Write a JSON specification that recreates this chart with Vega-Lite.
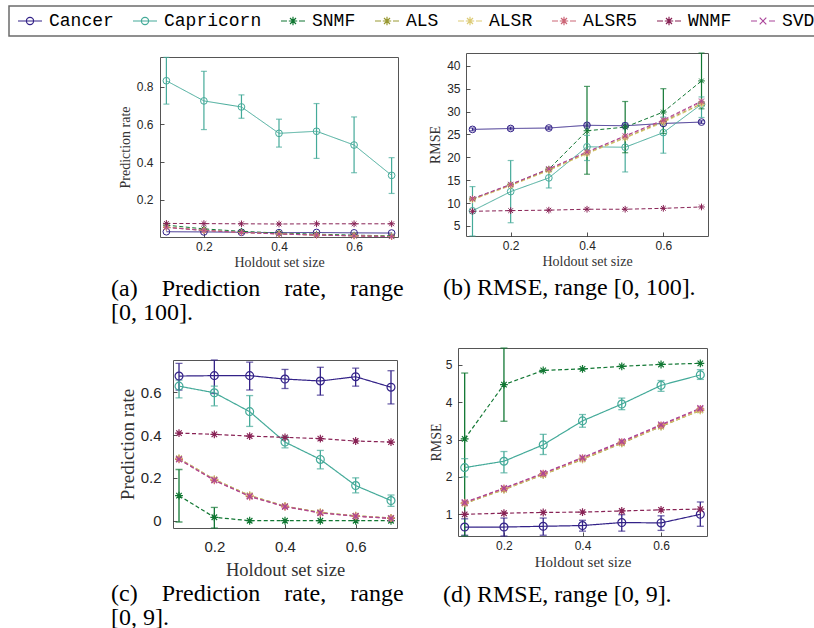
{
"$schema": "https://vega.github.io/schema/vega-lite/v6.json",
"padding": {"left": 8, "top": 5, "right": 2, "bottom": 2},
"background": "white",
"datasets": {"d": [
{"p":"a","s":"Cancer","x":0.1,"y":0.031},{"p":"a","s":"Cancer","x":0.2,"y":0.030},{"p":"a","s":"Cancer","x":0.3,"y":0.028},{"p":"a","s":"Cancer","x":0.4,"y":0.026},{"p":"a","s":"Cancer","x":0.5,"y":0.027},{"p":"a","s":"Cancer","x":0.6,"y":0.025},{"p":"a","s":"Cancer","x":0.7,"y":0.024},
{"p":"a","s":"Capricorn","x":0.1,"y":0.832,"lo":0.708,"hi":0.956},{"p":"a","s":"Capricorn","x":0.2,"y":0.725,"lo":0.573,"hi":0.882},{"p":"a","s":"Capricorn","x":0.3,"y":0.693,"lo":0.633,"hi":0.757},{"p":"a","s":"Capricorn","x":0.4,"y":0.553,"lo":0.48,"hi":0.628},{"p":"a","s":"Capricorn","x":0.5,"y":0.564,"lo":0.42,"hi":0.711},{"p":"a","s":"Capricorn","x":0.6,"y":0.491,"lo":0.344,"hi":0.64},{"p":"a","s":"Capricorn","x":0.7,"y":0.33,"lo":0.234,"hi":0.424},
{"p":"a","s":"SNMF","x":0.1,"y":0.066},{"p":"a","s":"SNMF","x":0.2,"y":0.046},{"p":"a","s":"SNMF","x":0.3,"y":0.033},{"p":"a","s":"SNMF","x":0.4,"y":0.024},{"p":"a","s":"SNMF","x":0.5,"y":0.018},{"p":"a","s":"SNMF","x":0.6,"y":0.013},{"p":"a","s":"SNMF","x":0.7,"y":0.009},
{"p":"a","s":"ALS","x":0.1,"y":0.056},{"p":"a","s":"ALS","x":0.2,"y":0.039},{"p":"a","s":"ALS","x":0.3,"y":0.028},{"p":"a","s":"ALS","x":0.4,"y":0.02},{"p":"a","s":"ALS","x":0.5,"y":0.014},{"p":"a","s":"ALS","x":0.6,"y":0.01},{"p":"a","s":"ALS","x":0.7,"y":0.006},
{"p":"a","s":"ALSR","x":0.1,"y":0.055},{"p":"a","s":"ALSR","x":0.2,"y":0.038},{"p":"a","s":"ALSR","x":0.3,"y":0.027},{"p":"a","s":"ALSR","x":0.4,"y":0.019},{"p":"a","s":"ALSR","x":0.5,"y":0.013},{"p":"a","s":"ALSR","x":0.6,"y":0.009},{"p":"a","s":"ALSR","x":0.7,"y":0.006},
{"p":"a","s":"ALSR5","x":0.1,"y":0.054},{"p":"a","s":"ALSR5","x":0.2,"y":0.037},{"p":"a","s":"ALSR5","x":0.3,"y":0.027},{"p":"a","s":"ALSR5","x":0.4,"y":0.019},{"p":"a","s":"ALSR5","x":0.5,"y":0.013},{"p":"a","s":"ALSR5","x":0.6,"y":0.009},{"p":"a","s":"ALSR5","x":0.7,"y":0.005},
{"p":"a","s":"WNMF","x":0.1,"y":0.075},{"p":"a","s":"WNMF","x":0.2,"y":0.074},{"p":"a","s":"WNMF","x":0.3,"y":0.073},{"p":"a","s":"WNMF","x":0.4,"y":0.072},{"p":"a","s":"WNMF","x":0.5,"y":0.073},{"p":"a","s":"WNMF","x":0.6,"y":0.073},{"p":"a","s":"WNMF","x":0.7,"y":0.073},
{"p":"a","s":"SVD","x":0.1,"y":0.054},{"p":"a","s":"SVD","x":0.2,"y":0.038},{"p":"a","s":"SVD","x":0.3,"y":0.027},{"p":"a","s":"SVD","x":0.4,"y":0.019},{"p":"a","s":"SVD","x":0.5,"y":0.013},{"p":"a","s":"SVD","x":0.6,"y":0.009},{"p":"a","s":"SVD","x":0.7,"y":0.005},

{"p":"b","s":"Cancer","x":0.1,"y":26.1,"lo":25.8,"hi":26.4},{"p":"b","s":"Cancer","x":0.2,"y":26.3,"lo":26.0,"hi":26.6},{"p":"b","s":"Cancer","x":0.3,"y":26.4,"lo":26.1,"hi":26.7},{"p":"b","s":"Cancer","x":0.4,"y":27.0,"lo":26.7,"hi":27.3},{"p":"b","s":"Cancer","x":0.5,"y":26.9,"lo":26.6,"hi":27.2},{"p":"b","s":"Cancer","x":0.6,"y":27.4,"lo":27.1,"hi":27.7},{"p":"b","s":"Cancer","x":0.7,"y":27.7,"lo":27.4,"hi":28.0},
{"p":"b","s":"Capricorn","x":0.1,"y":8.3,"lo":2.0,"hi":13.6},{"p":"b","s":"Capricorn","x":0.2,"y":12.5,"lo":5.7,"hi":19.3},{"p":"b","s":"Capricorn","x":0.3,"y":15.5,"lo":13.3,"hi":17.6},{"p":"b","s":"Capricorn","x":0.4,"y":22.3,"lo":19.3,"hi":24.8},{"p":"b","s":"Capricorn","x":0.5,"y":22.2,"lo":16.8,"hi":27.5},{"p":"b","s":"Capricorn","x":0.6,"y":25.4,"lo":20.9,"hi":28.8},{"p":"b","s":"Capricorn","x":0.7,"y":31.6,"lo":28.7,"hi":33.2},
{"p":"b","s":"SNMF","x":0.1,"y":10.9,"lo":10.6,"hi":11.2},{"p":"b","s":"SNMF","x":0.2,"y":14.0,"lo":13.7,"hi":14.3},{"p":"b","s":"SNMF","x":0.3,"y":17.4,"lo":17.1,"hi":17.7},{"p":"b","s":"SNMF","x":0.4,"y":25.8,"lo":16.3,"hi":35.5},{"p":"b","s":"SNMF","x":0.5,"y":26.6,"lo":21.0,"hi":32.2},{"p":"b","s":"SNMF","x":0.6,"y":29.9,"lo":25.2,"hi":35.0},{"p":"b","s":"SNMF","x":0.7,"y":36.7,"lo":30.6,"hi":44.0},
{"p":"b","s":"ALS","x":0.1,"y":10.8},{"p":"b","s":"ALS","x":0.2,"y":13.9},{"p":"b","s":"ALS","x":0.3,"y":17.2},{"p":"b","s":"ALS","x":0.4,"y":20.9},{"p":"b","s":"ALS","x":0.5,"y":24.3},{"p":"b","s":"ALS","x":0.6,"y":27.8},{"p":"b","s":"ALS","x":0.7,"y":31.7},
{"p":"b","s":"ALSR","x":0.1,"y":10.7},{"p":"b","s":"ALSR","x":0.2,"y":13.8},{"p":"b","s":"ALSR","x":0.3,"y":17.1},{"p":"b","s":"ALSR","x":0.4,"y":20.8},{"p":"b","s":"ALSR","x":0.5,"y":24.2},{"p":"b","s":"ALSR","x":0.6,"y":27.6},{"p":"b","s":"ALSR","x":0.7,"y":31.6},
{"p":"b","s":"ALSR5","x":0.1,"y":10.9},{"p":"b","s":"ALSR5","x":0.2,"y":14.0},{"p":"b","s":"ALSR5","x":0.3,"y":17.4},{"p":"b","s":"ALSR5","x":0.4,"y":21.1},{"p":"b","s":"ALSR5","x":0.5,"y":24.6},{"p":"b","s":"ALSR5","x":0.6,"y":28.0},{"p":"b","s":"ALSR5","x":0.7,"y":32.1},
{"p":"b","s":"WNMF","x":0.1,"y":8.2},{"p":"b","s":"WNMF","x":0.2,"y":8.35},{"p":"b","s":"WNMF","x":0.3,"y":8.45},{"p":"b","s":"WNMF","x":0.4,"y":8.65},{"p":"b","s":"WNMF","x":0.5,"y":8.65},{"p":"b","s":"WNMF","x":0.6,"y":8.85},{"p":"b","s":"WNMF","x":0.7,"y":9.15},
{"p":"b","s":"SVD","x":0.1,"y":11.0},{"p":"b","s":"SVD","x":0.2,"y":14.1},{"p":"b","s":"SVD","x":0.3,"y":17.5},{"p":"b","s":"SVD","x":0.4,"y":21.2},{"p":"b","s":"SVD","x":0.5,"y":24.7},{"p":"b","s":"SVD","x":0.6,"y":28.2},{"p":"b","s":"SVD","x":0.7,"y":32.3},

{"p":"c","s":"Cancer","x":0.1,"y":0.675,"lo":0.61,"hi":0.734},{"p":"c","s":"Cancer","x":0.2,"y":0.677,"lo":0.594,"hi":0.76},{"p":"c","s":"Cancer","x":0.3,"y":0.677,"lo":0.61,"hi":0.74},{"p":"c","s":"Cancer","x":0.4,"y":0.661,"lo":0.617,"hi":0.706},{"p":"c","s":"Cancer","x":0.5,"y":0.652,"lo":0.586,"hi":0.716},{"p":"c","s":"Cancer","x":0.6,"y":0.672,"lo":0.628,"hi":0.712},{"p":"c","s":"Cancer","x":0.7,"y":0.623,"lo":0.545,"hi":0.70},
{"p":"c","s":"Capricorn","x":0.1,"y":0.628,"lo":0.573,"hi":0.656},{"p":"c","s":"Capricorn","x":0.2,"y":0.597,"lo":0.536,"hi":0.628},{"p":"c","s":"Capricorn","x":0.3,"y":0.509,"lo":0.44,"hi":0.584},{"p":"c","s":"Capricorn","x":0.4,"y":0.367,"lo":0.34,"hi":0.394},{"p":"c","s":"Capricorn","x":0.5,"y":0.286,"lo":0.242,"hi":0.328},{"p":"c","s":"Capricorn","x":0.6,"y":0.164,"lo":0.13,"hi":0.2},{"p":"c","s":"Capricorn","x":0.7,"y":0.094,"lo":0.067,"hi":0.12},
{"p":"c","s":"SNMF","x":0.1,"y":0.117,"lo":-0.006,"hi":0.239},{"p":"c","s":"SNMF","x":0.2,"y":0.016,"lo":-0.04,"hi":0.062},{"p":"c","s":"SNMF","x":0.3,"y":0.0},{"p":"c","s":"SNMF","x":0.4,"y":0.0},{"p":"c","s":"SNMF","x":0.5,"y":0.0},{"p":"c","s":"SNMF","x":0.6,"y":0.0},{"p":"c","s":"SNMF","x":0.7,"y":0.0},
{"p":"c","s":"ALS","x":0.1,"y":0.291},{"p":"c","s":"ALS","x":0.2,"y":0.193},{"p":"c","s":"ALS","x":0.3,"y":0.118},{"p":"c","s":"ALS","x":0.4,"y":0.068},{"p":"c","s":"ALS","x":0.5,"y":0.039},{"p":"c","s":"ALS","x":0.6,"y":0.023},{"p":"c","s":"ALS","x":0.7,"y":0.013},
{"p":"c","s":"ALSR","x":0.1,"y":0.29},{"p":"c","s":"ALSR","x":0.2,"y":0.192},{"p":"c","s":"ALSR","x":0.3,"y":0.117},{"p":"c","s":"ALSR","x":0.4,"y":0.067},{"p":"c","s":"ALSR","x":0.5,"y":0.038},{"p":"c","s":"ALSR","x":0.6,"y":0.022},{"p":"c","s":"ALSR","x":0.7,"y":0.012},
{"p":"c","s":"ALSR5","x":0.1,"y":0.286},{"p":"c","s":"ALSR5","x":0.2,"y":0.188},{"p":"c","s":"ALSR5","x":0.3,"y":0.113},{"p":"c","s":"ALSR5","x":0.4,"y":0.065},{"p":"c","s":"ALSR5","x":0.5,"y":0.036},{"p":"c","s":"ALSR5","x":0.6,"y":0.021},{"p":"c","s":"ALSR5","x":0.7,"y":0.011},
{"p":"c","s":"WNMF","x":0.1,"y":0.409},{"p":"c","s":"WNMF","x":0.2,"y":0.403},{"p":"c","s":"WNMF","x":0.3,"y":0.395},{"p":"c","s":"WNMF","x":0.4,"y":0.389},{"p":"c","s":"WNMF","x":0.5,"y":0.383},{"p":"c","s":"WNMF","x":0.6,"y":0.372},{"p":"c","s":"WNMF","x":0.7,"y":0.367},
{"p":"c","s":"SVD","x":0.1,"y":0.287},{"p":"c","s":"SVD","x":0.2,"y":0.189},{"p":"c","s":"SVD","x":0.3,"y":0.114},{"p":"c","s":"SVD","x":0.4,"y":0.066},{"p":"c","s":"SVD","x":0.5,"y":0.037},{"p":"c","s":"SVD","x":0.6,"y":0.021},{"p":"c","s":"SVD","x":0.7,"y":0.011},

{"p":"d","s":"Cancer","x":0.1,"y":0.66,"lo":0.44,"hi":0.88},{"p":"d","s":"Cancer","x":0.2,"y":0.66,"lo":0.42,"hi":0.9},{"p":"d","s":"Cancer","x":0.3,"y":0.68,"lo":0.44,"hi":0.9},{"p":"d","s":"Cancer","x":0.4,"y":0.7,"lo":0.55,"hi":0.84},{"p":"d","s":"Cancer","x":0.5,"y":0.78,"lo":0.55,"hi":0.99},{"p":"d","s":"Cancer","x":0.6,"y":0.77,"lo":0.57,"hi":0.96},{"p":"d","s":"Cancer","x":0.7,"y":1.0,"lo":0.68,"hi":1.33},
{"p":"d","s":"Capricorn","x":0.1,"y":2.25,"lo":2.0,"hi":2.49},{"p":"d","s":"Capricorn","x":0.2,"y":2.42,"lo":2.11,"hi":2.68},{"p":"d","s":"Capricorn","x":0.3,"y":2.86,"lo":2.6,"hi":3.14},{"p":"d","s":"Capricorn","x":0.4,"y":3.5,"lo":3.33,"hi":3.67},{"p":"d","s":"Capricorn","x":0.5,"y":3.95,"lo":3.8,"hi":4.11},{"p":"d","s":"Capricorn","x":0.6,"y":4.45,"lo":4.29,"hi":4.58},{"p":"d","s":"Capricorn","x":0.7,"y":4.73,"lo":4.61,"hi":4.87},
{"p":"d","s":"SNMF","x":0.1,"y":3.02,"lo":0.3,"hi":4.78},{"p":"d","s":"SNMF","x":0.2,"y":4.47,"lo":3.49,"hi":5.6},{"p":"d","s":"SNMF","x":0.3,"y":4.85},{"p":"d","s":"SNMF","x":0.4,"y":4.89},{"p":"d","s":"SNMF","x":0.5,"y":4.96},{"p":"d","s":"SNMF","x":0.6,"y":5.01},{"p":"d","s":"SNMF","x":0.7,"y":5.04},
{"p":"d","s":"ALS","x":0.1,"y":1.29},{"p":"d","s":"ALS","x":0.2,"y":1.66},{"p":"d","s":"ALS","x":0.3,"y":2.06},{"p":"d","s":"ALS","x":0.4,"y":2.47},{"p":"d","s":"ALS","x":0.5,"y":2.9},{"p":"d","s":"ALS","x":0.6,"y":3.35},{"p":"d","s":"ALS","x":0.7,"y":3.78},
{"p":"d","s":"ALSR","x":0.1,"y":1.3},{"p":"d","s":"ALSR","x":0.2,"y":1.67},{"p":"d","s":"ALSR","x":0.3,"y":2.07},{"p":"d","s":"ALSR","x":0.4,"y":2.48},{"p":"d","s":"ALSR","x":0.5,"y":2.91},{"p":"d","s":"ALSR","x":0.6,"y":3.36},{"p":"d","s":"ALSR","x":0.7,"y":3.79},
{"p":"d","s":"ALSR5","x":0.1,"y":1.31},{"p":"d","s":"ALSR5","x":0.2,"y":1.69},{"p":"d","s":"ALSR5","x":0.3,"y":2.09},{"p":"d","s":"ALSR5","x":0.4,"y":2.5},{"p":"d","s":"ALSR5","x":0.5,"y":2.93},{"p":"d","s":"ALSR5","x":0.6,"y":3.38},{"p":"d","s":"ALSR5","x":0.7,"y":3.82},
{"p":"d","s":"WNMF","x":0.1,"y":1.0},{"p":"d","s":"WNMF","x":0.2,"y":1.03},{"p":"d","s":"WNMF","x":0.3,"y":1.05},{"p":"d","s":"WNMF","x":0.4,"y":1.06},{"p":"d","s":"WNMF","x":0.5,"y":1.09},{"p":"d","s":"WNMF","x":0.6,"y":1.12},{"p":"d","s":"WNMF","x":0.7,"y":1.14},
{"p":"d","s":"SVD","x":0.1,"y":1.32},{"p":"d","s":"SVD","x":0.2,"y":1.7},{"p":"d","s":"SVD","x":0.3,"y":2.1},{"p":"d","s":"SVD","x":0.4,"y":2.52},{"p":"d","s":"SVD","x":0.5,"y":2.95},{"p":"d","s":"SVD","x":0.6,"y":3.4},{"p":"d","s":"SVD","x":0.7,"y":3.84}
]},
"spacing": 14,
"vconcat": [
{
 "width": 1, "height": 1,
 "view": {"stroke": null},
 "data": {"values": []},
 "mark": {"type": "point", "filled": false, "opacity": 1},
 "encoding": {
  "color": {"field": "s", "type": "nominal",
   "scale": {"domain": ["Cancer","Capricorn","SNMF","ALS","ALSR","ALSR5","WNMF","SVD"], "range": ["#332288","#44AA99","#117733","#999933","#DDCC77","#CC6677","#882255","#AA4499"]},
   "legend": {"orient": "top", "direction": "horizontal", "title": null, "offset": 0, "padding": 6, "strokeColor": "#6b6b6b", "labelFont": "Liberation Mono", "labelFontSize": 18, "labelColor": "#000000", "labelOffset": 16, "columnPadding": 16, "symbolSize": 144, "symbolStrokeWidth": 1.2, "labelLimit": 0, "symbolLimit": 0}},
  "shape": {"field": "s", "type": "nominal",
   "scale": {"domain": ["Cancer","Capricorn","SNMF","ALS","ALSR","ALSR5","WNMF","SVD"], "range": [
    "M-1,0L3,0M1.6,0A0.6,0.6 0 1 1 0.4,0A0.6,0.6 0 1 1 1.6,0",
    "M-1,0L3,0M1.6,0A0.6,0.6 0 1 1 0.4,0A0.6,0.6 0 1 1 1.6,0",
    "M-1,0L0,0M2,0L3,0M0.3,0L1.7,0M1,-0.7L1,0.7M0.5,-0.5L1.5,0.5M0.5,0.5L1.5,-0.5",
    "M-1,0L0,0M2,0L3,0M0.3,0L1.7,0M1,-0.7L1,0.7M0.5,-0.5L1.5,0.5M0.5,0.5L1.5,-0.5",
    "M-1,0L0,0M2,0L3,0M0.3,0L1.7,0M1,-0.7L1,0.7M0.5,-0.5L1.5,0.5M0.5,0.5L1.5,-0.5",
    "M-1,0L0,0M2,0L3,0M0.3,0L1.7,0M1,-0.7L1,0.7M0.5,-0.5L1.5,0.5M0.5,0.5L1.5,-0.5",
    "M-1,0L0,0M2,0L3,0M0.3,0L1.7,0M1,-0.7L1,0.7M0.5,-0.5L1.5,0.5M0.5,0.5L1.5,-0.5",
    "M-1,0L0,0M2,0L3,0M0.45,-0.55L1.55,0.55M0.45,0.55L1.55,-0.55"]},
   "legend": {"orient": "top", "direction": "horizontal", "title": null, "offset": 0, "padding": 6, "strokeColor": "#6b6b6b", "labelFont": "Liberation Mono", "labelFontSize": 18, "labelColor": "#000000", "labelOffset": 16, "columnPadding": 16, "symbolSize": 144, "symbolStrokeWidth": 1.2, "labelLimit": 0, "symbolLimit": 0}}
 }
},
{
 "spacing": 23,
 "hconcat": [
  {"width": 78, "height": 1, "view": {"stroke": null}, "data": {"values": []}, "mark": "point"},
  {"spacing": 2, "vconcat": [
   {"width": 1, "height": 1, "view": {"stroke": null}, "data": {"values": []}, "mark": "point"},
   {
    "width": 238, "height": 180,
    "data": {"name": "d"},
    "transform": [{"filter": "datum.p == 'a'"}],
    "title": {"text": ["(a)\u00a0\u00a0\u00a0\u00a0Prediction\u00a0\u00a0\u00a0\u00a0rate,\u00a0\u00a0\u00a0\u00a0range", "[0, 100]."], "orient": "bottom", "anchor": "start", "frame": "group", "dx": -49, "offset": 8, "font": "Liberation Serif", "fontSize": 24, "fontWeight": "normal", "color": "#000000", "lineHeight": 24},
    "encoding": {
     "x": {"field": "x", "type": "quantitative", "title": "Holdout set size", "scale": {"domain": [0.083, 0.717], "nice": false, "zero": false}, "axis": {"values": [0.2, 0.4, 0.6], "format": ".1f", "labelFontSize": 12, "titleFontSize": 14, "tickSize": -4, "labelPadding": 8, "titlePadding": 3}},
     "y": {"field": "y", "type": "quantitative", "title": "Prediction rate", "scale": {"domain": [0.003, 0.958], "nice": false, "zero": false, "clamp": true}, "axis": {"values": [0.2, 0.4, 0.6, 0.8], "format": ".1f", "labelFontSize": 12, "titleFontSize": 14, "tickSize": -4, "labelPadding": 11, "titlePadding": 4}},
     "color": {"field": "s", "type": "nominal", "scale": {"domain": ["Cancer","Capricorn","SNMF","ALS","ALSR","ALSR5","WNMF","SVD"], "range": ["#332288","#44AA99","#117733","#999933","#DDCC77","#CC6677","#882255","#AA4499"]}, "legend": null}
    },
    "layer": [
     {"mark": {"type": "rule", "strokeWidth": 1.2}, "encoding": {"y": {"field": "lo", "type": "quantitative", "title": "Prediction rate"}, "y2": {"field": "hi"}}},
     {"mark": {"type": "tick", "orient": "horizontal", "size": 6, "thickness": 1.2}, "encoding": {"y": {"field": "lo", "type": "quantitative", "title": "Prediction rate"}}},
     {"mark": {"type": "tick", "orient": "horizontal", "size": 6, "thickness": 1.2}, "encoding": {"y": {"field": "hi", "type": "quantitative", "title": "Prediction rate"}}},
     {"mark": {"type": "line", "strokeWidth": 1}, "encoding": {"strokeDash": {"field": "s", "type": "nominal", "scale": {"domain": ["Cancer","Capricorn","SNMF","ALS","ALSR","ALSR5","WNMF","SVD"], "range": [[1,0],[1,0],[4,2.5],[4,2.5],[4,2.5],[4,2.5],[4,2.5],[4,2.5]]}, "legend": null}}},
     {"mark": {"type": "point", "filled": false, "size": 45, "strokeWidth": 1, "opacity": 1}, "encoding": {"shape": {"field": "s", "type": "nominal", "scale": {"domain": ["Cancer","Capricorn","SNMF","ALS","ALSR","ALSR5","WNMF","SVD"], "range": ["circle","circle","M-1,0L1,0M0,-1L0,1M-0.7,-0.7L0.7,0.7M-0.7,0.7L0.7,-0.7","M-1,0L1,0M0,-1L0,1M-0.7,-0.7L0.7,0.7M-0.7,0.7L0.7,-0.7","M-1,0L1,0M0,-1L0,1M-0.7,-0.7L0.7,0.7M-0.7,0.7L0.7,-0.7","M-1,0L1,0M0,-1L0,1M-0.7,-0.7L0.7,0.7M-0.7,0.7L0.7,-0.7","M-1,0L1,0M0,-1L0,1M-0.7,-0.7L0.7,0.7M-0.7,0.7L0.7,-0.7","M-0.75,-0.75L0.75,0.75M-0.75,0.75L0.75,-0.75"]}, "legend": null}}}
    ]
   }
  ]},
  {
   "width": 242, "height": 183,
   "data": {"name": "d"},
   "transform": [{"filter": "datum.p == 'b'"}],
   "title": {"text": "(b) RMSE, range [0, 100].", "orient": "bottom", "anchor": "start", "frame": "group", "dx": -23, "offset": 8, "font": "Liberation Serif", "fontSize": 24, "fontWeight": "normal", "color": "#000000"},
   "encoding": {
    "x": {"field": "x", "type": "quantitative", "title": "Holdout set size", "scale": {"domain": [0.083, 0.717], "nice": false, "zero": false}, "axis": {"values": [0.2, 0.4, 0.6], "format": ".1f", "labelFontSize": 12, "titleFontSize": 14, "tickSize": -4, "labelPadding": 8, "titlePadding": 3}},
    "y": {"field": "y", "type": "quantitative", "title": "RMSE", "scale": {"domain": [2.8, 42.8], "nice": false, "zero": false, "clamp": true}, "axis": {"values": [5,10,15,20,25,30,35,40], "format": "d", "labelFontSize": 12, "titleFontSize": 14, "tickSize": -4, "labelPadding": 10, "titlePadding": 4}},
    "color": {"field": "s", "type": "nominal", "scale": {"domain": ["Cancer","Capricorn","SNMF","ALS","ALSR","ALSR5","WNMF","SVD"], "range": ["#332288","#44AA99","#117733","#999933","#DDCC77","#CC6677","#882255","#AA4499"]}, "legend": null}
   },
   "layer": [
    {"mark": {"type": "rule", "strokeWidth": 1.2}, "encoding": {"y": {"field": "lo", "type": "quantitative", "title": "RMSE"}, "y2": {"field": "hi"}}},
    {"mark": {"type": "tick", "orient": "horizontal", "size": 6, "thickness": 1.2}, "encoding": {"y": {"field": "lo", "type": "quantitative", "title": "RMSE"}}},
    {"mark": {"type": "tick", "orient": "horizontal", "size": 6, "thickness": 1.2}, "encoding": {"y": {"field": "hi", "type": "quantitative", "title": "RMSE"}}},
    {"mark": {"type": "line", "strokeWidth": 1}, "encoding": {"strokeDash": {"field": "s", "type": "nominal", "scale": {"domain": ["Cancer","Capricorn","SNMF","ALS","ALSR","ALSR5","WNMF","SVD"], "range": [[1,0],[1,0],[4,2.5],[4,2.5],[4,2.5],[4,2.5],[4,2.5],[4,2.5]]}, "legend": null}}},
    {"mark": {"type": "point", "filled": false, "size": 45, "strokeWidth": 1, "opacity": 1}, "encoding": {"shape": {"field": "s", "type": "nominal", "scale": {"domain": ["Cancer","Capricorn","SNMF","ALS","ALSR","ALSR5","WNMF","SVD"], "range": ["circle","circle","M-1,0L1,0M0,-1L0,1M-0.7,-0.7L0.7,0.7M-0.7,0.7L0.7,-0.7","M-1,0L1,0M0,-1L0,1M-0.7,-0.7L0.7,0.7M-0.7,0.7L0.7,-0.7","M-1,0L1,0M0,-1L0,1M-0.7,-0.7L0.7,0.7M-0.7,0.7L0.7,-0.7","M-1,0L1,0M0,-1L0,1M-0.7,-0.7L0.7,0.7M-0.7,0.7L0.7,-0.7","M-1,0L1,0M0,-1L0,1M-0.7,-0.7L0.7,0.7M-0.7,0.7L0.7,-0.7","M-0.75,-0.75L0.75,0.75M-0.75,0.75L0.75,-0.75"]}, "legend": null}}}
   ]
  }
 ]
},
{
 "spacing": 23,
 "hconcat": [
  {"width": 78, "height": 1, "view": {"stroke": null}, "data": {"values": []}, "mark": "point"},
  {"spacing": 11, "vconcat": [
   {"width": 1, "height": 7, "view": {"stroke": null}, "data": {"values": []}, "mark": "point"},
   {
    "width": 224, "height": 168,
    "data": {"name": "d"},
    "transform": [{"filter": "datum.p == 'c'"}],
    "title": {"text": ["(c)\u00a0\u00a0\u00a0\u00a0Prediction\u00a0\u00a0\u00a0\u00a0rate,\u00a0\u00a0\u00a0\u00a0range", "[0, 9]."], "orient": "bottom", "anchor": "start", "frame": "group", "dx": -62, "offset": 3, "font": "Liberation Serif", "fontSize": 24, "fontWeight": "normal", "color": "#000000", "lineHeight": 24},
    "encoding": {
     "x": {"field": "x", "type": "quantitative", "title": "Holdout set size", "scale": {"domain": [0.083, 0.717], "nice": false, "zero": false}, "axis": {"values": [0.2, 0.4, 0.6], "format": ".1f", "labelFontSize": 15, "titleFontSize": 18.5, "tickSize": -4, "labelPadding": 15, "titlePadding": 6}},
     "y": {"field": "y", "type": "quantitative", "title": "Prediction rate", "scale": {"domain": [-0.034, 0.75], "nice": false, "zero": false, "clamp": true}, "axis": {"values": [0, 0.2, 0.4, 0.6], "format": ".1~f", "labelFontSize": 15, "titleFontSize": 19, "tickSize": -4, "labelPadding": 16, "titlePadding": 3}},
     "color": {"field": "s", "type": "nominal", "scale": {"domain": ["Cancer","Capricorn","SNMF","ALS","ALSR","ALSR5","WNMF","SVD"], "range": ["#332288","#44AA99","#117733","#999933","#DDCC77","#CC6677","#882255","#AA4499"]}, "legend": null}
    },
    "layer": [
     {"mark": {"type": "rule", "strokeWidth": 1.3}, "encoding": {"y": {"field": "lo", "type": "quantitative", "title": "Prediction rate"}, "y2": {"field": "hi"}}},
     {"mark": {"type": "tick", "orient": "horizontal", "size": 7, "thickness": 1.3}, "encoding": {"y": {"field": "lo", "type": "quantitative", "title": "Prediction rate"}}},
     {"mark": {"type": "tick", "orient": "horizontal", "size": 7, "thickness": 1.3}, "encoding": {"y": {"field": "hi", "type": "quantitative", "title": "Prediction rate"}}},
     {"mark": {"type": "line", "strokeWidth": 1.2}, "encoding": {"strokeDash": {"field": "s", "type": "nominal", "scale": {"domain": ["Cancer","Capricorn","SNMF","ALS","ALSR","ALSR5","WNMF","SVD"], "range": [[1,0],[1,0],[5,3],[5,3],[5,3],[5,3],[5,3],[5,3]]}, "legend": null}}},
     {"mark": {"type": "point", "filled": false, "size": 62, "strokeWidth": 1.2, "opacity": 1}, "encoding": {"shape": {"field": "s", "type": "nominal", "scale": {"domain": ["Cancer","Capricorn","SNMF","ALS","ALSR","ALSR5","WNMF","SVD"], "range": ["circle","circle","M-1,0L1,0M0,-1L0,1M-0.7,-0.7L0.7,0.7M-0.7,0.7L0.7,-0.7","M-1,0L1,0M0,-1L0,1M-0.7,-0.7L0.7,0.7M-0.7,0.7L0.7,-0.7","M-1,0L1,0M0,-1L0,1M-0.7,-0.7L0.7,0.7M-0.7,0.7L0.7,-0.7","M-1,0L1,0M0,-1L0,1M-0.7,-0.7L0.7,0.7M-0.7,0.7L0.7,-0.7","M-1,0L1,0M0,-1L0,1M-0.7,-0.7L0.7,0.7M-0.7,0.7L0.7,-0.7","M-0.75,-0.75L0.75,0.75M-0.75,0.75L0.75,-0.75"]}, "legend": null}}}
    ]
   }
  ]},
  {"spacing": 5, "vconcat": [
   {"width": 1, "height": 1, "view": {"stroke": null}, "data": {"values": []}, "mark": "point"},
   {
    "width": 249, "height": 188,
    "data": {"name": "d"},
    "transform": [{"filter": "datum.p == 'd'"}],
    "title": {"text": "(d) RMSE, range [0, 9].", "orient": "bottom", "anchor": "start", "frame": "group", "dx": -15, "offset": 14, "font": "Liberation Serif", "fontSize": 24, "fontWeight": "normal", "color": "#000000"},
    "encoding": {
     "x": {"field": "x", "type": "quantitative", "title": "Holdout set size", "scale": {"domain": [0.083, 0.717], "nice": false, "zero": false}, "axis": {"values": [0.2, 0.4, 0.6], "format": ".1f", "labelFontSize": 12, "titleFontSize": 15, "tickSize": -4, "labelPadding": 8, "titlePadding": 3}},
     "y": {"field": "y", "type": "quantitative", "title": "RMSE", "scale": {"domain": [0.42, 5.45], "nice": false, "zero": false, "clamp": true}, "axis": {"values": [1,2,3,4,5], "format": "d", "labelFontSize": 12, "titleFontSize": 14, "tickSize": -4, "labelPadding": 10, "titlePadding": 2}},
     "color": {"field": "s", "type": "nominal", "scale": {"domain": ["Cancer","Capricorn","SNMF","ALS","ALSR","ALSR5","WNMF","SVD"], "range": ["#332288","#44AA99","#117733","#999933","#DDCC77","#CC6677","#882255","#AA4499"]}, "legend": null}
    },
    "layer": [
     {"mark": {"type": "rule", "strokeWidth": 1.3}, "encoding": {"y": {"field": "lo", "type": "quantitative", "title": "RMSE"}, "y2": {"field": "hi"}}},
     {"mark": {"type": "tick", "orient": "horizontal", "size": 7, "thickness": 1.3}, "encoding": {"y": {"field": "lo", "type": "quantitative", "title": "RMSE"}}},
     {"mark": {"type": "tick", "orient": "horizontal", "size": 7, "thickness": 1.3}, "encoding": {"y": {"field": "hi", "type": "quantitative", "title": "RMSE"}}},
     {"mark": {"type": "line", "strokeWidth": 1.2}, "encoding": {"strokeDash": {"field": "s", "type": "nominal", "scale": {"domain": ["Cancer","Capricorn","SNMF","ALS","ALSR","ALSR5","WNMF","SVD"], "range": [[1,0],[1,0],[5,3],[5,3],[5,3],[5,3],[5,3],[5,3]]}, "legend": null}}},
     {"mark": {"type": "point", "filled": false, "size": 62, "strokeWidth": 1.2, "opacity": 1}, "encoding": {"shape": {"field": "s", "type": "nominal", "scale": {"domain": ["Cancer","Capricorn","SNMF","ALS","ALSR","ALSR5","WNMF","SVD"], "range": ["circle","circle","M-1,0L1,0M0,-1L0,1M-0.7,-0.7L0.7,0.7M-0.7,0.7L0.7,-0.7","M-1,0L1,0M0,-1L0,1M-0.7,-0.7L0.7,0.7M-0.7,0.7L0.7,-0.7","M-1,0L1,0M0,-1L0,1M-0.7,-0.7L0.7,0.7M-0.7,0.7L0.7,-0.7","M-1,0L1,0M0,-1L0,1M-0.7,-0.7L0.7,0.7M-0.7,0.7L0.7,-0.7","M-1,0L1,0M0,-1L0,1M-0.7,-0.7L0.7,0.7M-0.7,0.7L0.7,-0.7","M-0.75,-0.75L0.75,0.75M-0.75,0.75L0.75,-0.75"]}, "legend": null}}}
    ]
   }
  ]}
 ]
}
],
"resolve": {"scale": {"color": "independent", "shape": "independent"}},
"config": {
 "view": {"stroke": "#555555", "strokeWidth": 1},
 "legend": {"strokeWidth": 1.5},
 "axis": {"grid": false, "domain": false, "labelFont": "Liberation Sans", "labelColor": "#262626", "tickColor": "#262626", "tickWidth": 0.8, "titleFont": "Liberation Serif", "titleFontWeight": "normal", "titleColor": "#333333"}
}
}
